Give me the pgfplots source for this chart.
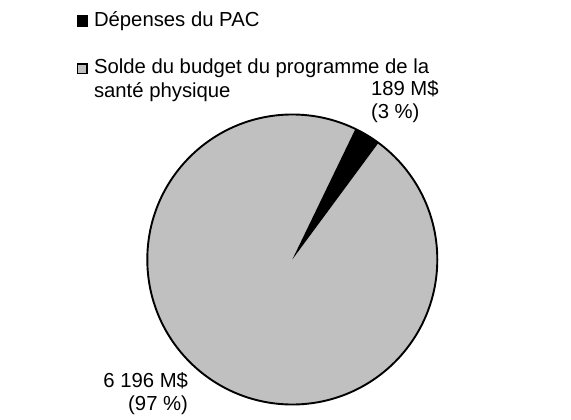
\documentclass[border=0pt]{standalone}
\usepackage{pgfplots}
\pgfplotsset{compat=1.18}
\usepackage{pgfplotstable}
\usepackage{fontspec}
\setmainfont{Liberation Sans}

\definecolor{pacblack}{RGB}{0,0,0}
\definecolor{soldegray}{RGB}{192,192,192}

% Budget split (M$)
\pgfplotstableread{
part value
pac 189
solde 6196
}\budget

\tikzset{lbl/.style={font=\fontsize{20.3}{24}\selectfont, inner sep=0pt, outer sep=0pt}}

\begin{document}
\begin{tikzpicture}
\pgfplotstablegetelem{0}{value}\of\budget \let\vpac\pgfplotsretval
\pgfplotstablegetelem{1}{value}\of\budget \let\vsolde\pgfplotsretval
\pgfmathsetmacro{\share}{\vpac/(\vpac+\vsolde)}
\pgfmathsetmacro{\startang}{64.2}
\pgfmathsetmacro{\midang}{\startang-360*\share}
\pgfmathsetmacro{\endang}{\startang-360}
\def\R{145pt}
\begin{axis}[
  scale only axis, width=571pt, height=420pt,
  xmin=0, xmax=571, ymin=0, ymax=420, y dir=reverse,
  hide axis, clip=false,
]
  % slices, clockwise from the start angle
  \fill[soldegray] (axis cs:292.3,259.5) -- ++(\midang:\R)
      arc[start angle=\midang, end angle=\endang, radius=\R] -- cycle;
  \fill[pacblack] (axis cs:292.3,259.5) -- ++(\startang:\R)
      arc[start angle=\startang, end angle=\midang, radius=\R] -- cycle;
  \draw[black, line width=1.9pt] (axis cs:292.3,259.5) circle[radius=\R];

  % legend
  \fill[pacblack] (axis cs:76.8,15.3) rectangle (axis cs:87.6,26.6);
  \node[lbl, anchor=base west] at (axis cs:94,26.7) {Dépenses du PAC};
  \draw[black, line width=1.5pt, fill=soldegray] (axis cs:77.5,63.8) rectangle (axis cs:87,73.4);
  \node[lbl, anchor=base west] at (axis cs:94,74) {Solde du budget du programme de la};
  \node[lbl, anchor=base west] at (axis cs:94,97.5) {santé physique};

  % data labels
  \node[lbl, anchor=base west] at (axis cs:371,95.5) {189 M\$};
  \node[lbl, anchor=base west] at (axis cs:371,118.5) {(3 \%)};
  \node[lbl, anchor=base east] at (axis cs:188,387.5) {6 196 M\$};
  \node[lbl, anchor=base east] at (axis cs:188,410.5) {(97 \%)};
\end{axis}
\pgfresetboundingbox
\path (current axis.south west) rectangle (current axis.north east);
\end{tikzpicture}
\end{document}
